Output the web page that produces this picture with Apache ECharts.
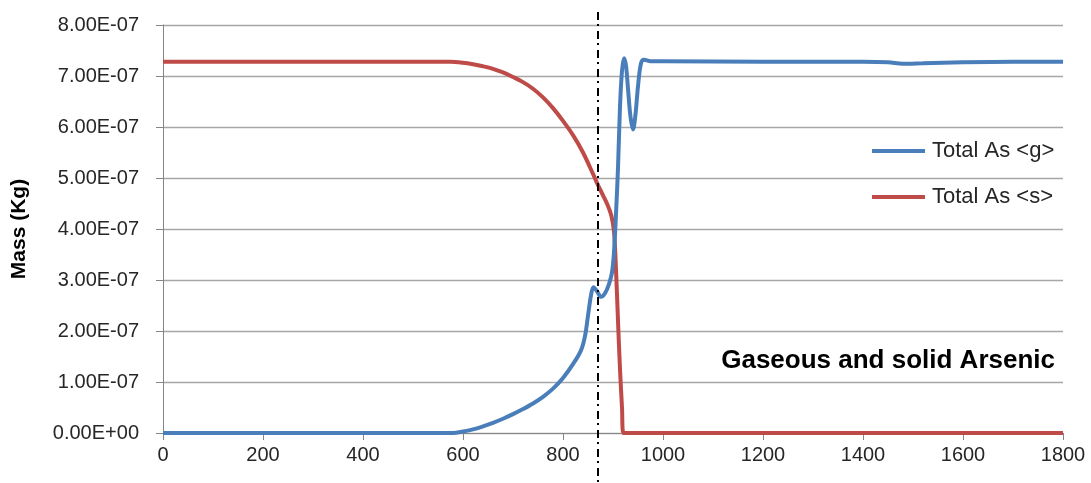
<!DOCTYPE html>
<html>
<head>
<meta charset="utf-8">
<script src="https://cdn.jsdelivr.net/npm/echarts@6/dist/echarts.min.js"></script>
<style>
  html, body { margin: 0; padding: 0; background: #fff; }
  #main { width: 1091px; height: 483px; }
</style>
</head>
<body>
<div id="main"></div>
<script>
// values in units of 1E-07 kg
var SCALE = 1e-7
var gTime = [0, 560, 580, 600, 620, 640, 660, 680, 700, 720, 740, 760, 780, 800, 820, 836, 844, 850, 856, 861, 868, 876, 884, 892, 898, 902, 906, 910, 914, 918, 922, 926, 930, 935, 940, 945, 950, 956, 962, 975, 1000, 1200, 1400, 1450, 1480, 1520, 1600, 1700, 1800]
var gMass = [0, 0, 0, 0.03, 0.07, 0.13, 0.2, 0.28, 0.37, 0.47, 0.58, 0.71, 0.87, 1.08, 1.35, 1.62, 1.9, 2.3, 2.7, 2.86, 2.78, 2.67, 2.74, 2.92, 3.15, 3.55, 4.3, 5.2, 6.4, 7.1, 7.35, 7.2, 6.75, 6.2, 5.95, 6.25, 6.8, 7.25, 7.32, 7.29, 7.29, 7.28, 7.28, 7.27, 7.24, 7.25, 7.27, 7.28, 7.28]
var sTime = [0, 500, 575, 600, 620, 640, 660, 680, 700, 720, 740, 760, 780, 800, 820, 840, 860, 870, 880, 890, 897, 902, 906, 910, 914, 918, 921, 1000, 1800]
var sMass = [7.28, 7.28, 7.28, 7.26, 7.23, 7.19, 7.14, 7.07, 6.98, 6.88, 6.75, 6.58, 6.37, 6.12, 5.84, 5.5, 5.08, 4.86, 4.66, 4.45, 4.25, 3.95, 3.2, 2.2, 1.25, 0.5, 0, 0, 0]
var xTicks = [0, 200, 400, 600, 800, 1000, 1200, 1400, 1600, 1800]
var markTime = 870

var font = 'Liberation Sans'

function pairs(xs, ys) {
  return xs.map(function (x, i) { return [x, ys[i] * SCALE] })
}

function sci(v) {
  var s = v.toExponential(2)
  return s.replace(/e([+-])(\d)$/, 'E$10$2').replace('e', 'E')
}

var chart = echarts.init(document.getElementById('main'))
var option = {
  animation: false,
  textStyle: { fontFamily: font },
  grid: { left: 163, right: 28, top: 25, bottom: 50 },
  title: {
    text: 'Gaseous and solid Arsenic',
    right: 36,
    top: 348,
    padding: 0,
    textStyle: { fontFamily: font, fontSize: 26, fontWeight: 'bold', color: '#000' }
  },
  legend: {
    orient: 'vertical',
    left: 872,
    top: 140,
    padding: 0,
    icon: 'rect',
    itemWidth: 53,
    itemHeight: 4,
    itemGap: 24,
    textStyle: { fontFamily: font, fontSize: 22, color: '#262626', padding: [0, 0, 0, 2] }
  },
  xAxis: {
    type: 'value',
    min: 0,
    max: xTicks[xTicks.length - 1],
    interval: xTicks[1] - xTicks[0],
    splitLine: { show: false },
    axisLine: { lineStyle: { color: '#868686', width: 1 } },
    axisTick: { show: true, length: 7, lineStyle: { color: '#868686' } },
    axisLabel: { fontFamily: font, fontSize: 20, color: '#262626', margin: 12, formatter: function (v) { return String(v) } }
  },
  yAxis: {
    type: 'value',
    min: 0,
    max: 8 * SCALE,
    interval: SCALE,
    name: 'Mass (Kg)',
    nameLocation: 'middle',
    nameGap: 133,
    nameTextStyle: { fontFamily: font, fontSize: 21, fontWeight: 'bold', color: '#000' },
    axisLine: { show: true, lineStyle: { color: '#868686', width: 1 } },
    axisTick: { show: true, length: 7, lineStyle: { color: '#868686' } },
    splitLine: { lineStyle: { color: '#a6a6a6', width: 1.3 } },
    axisLabel: { fontFamily: font, fontSize: 20, color: '#262626', margin: 24, formatter: sci }
  },
  series: [
    {
      name: 'Total As <g>',
      type: 'line',
      data: pairs(gTime, gMass),
      showSymbol: false,
      symbol: 'none',
      smooth: 0.35,
      z: 3,
      lineStyle: { color: '#4a7ebb', width: 4 },
      itemStyle: { color: '#4a7ebb' }
    },
    {
      name: 'Total As <s>',
      type: 'line',
      data: pairs(sTime, sMass),
      showSymbol: false,
      symbol: 'none',
      smooth: 0.35,
      z: 2,
      lineStyle: { color: '#be4b48', width: 4 },
      itemStyle: { color: '#be4b48' }
    }
  ]
}
chart.setOption(option)

// dash-dot marker line, runs past the plot area like the original
var px = chart.convertToPixel({ xAxisIndex: 0 }, markTime)
chart.setOption({
  graphic: [{
    type: 'line',
    shape: { x1: px, y1: 12, x2: px, y2: 483 },
    style: { stroke: '#000', lineWidth: 2, lineDash: [8, 4, 2, 5] },
    z: 10
  }]
})
</script>
</body>
</html>
